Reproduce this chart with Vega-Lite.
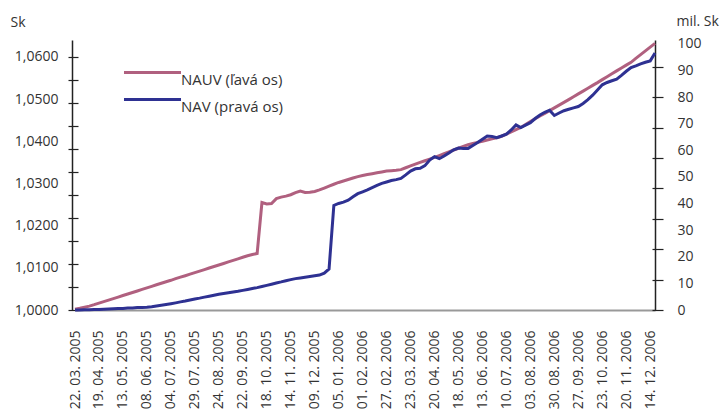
{
  "$schema": "https://vega.github.io/schema/vega-lite/v6.json",
  "width": 583,
  "height": 270,
  "autosize": {"type": "none"},
  "padding": {"left": 72, "top": 40, "right": 67, "bottom": 106},
  "background": "white",
  "config": {
    "view": {"stroke": null},
    "font": "Open Sans",
    "axis": {"labelFont": "Open Sans", "titleFont": "Open Sans", "labelColor": "#333333", "titleColor": "#333333", "grid": false},
    "legend": {"labelFont": "Open Sans", "labelColor": "#333333"}
  },
  "data": {
    "values": [
      {"d": "2005-03-22", "nauv": 1.00017, "nav": 0.04},
      {"d": "2005-03-29", "nauv": 1.0004, "nav": 0.04},
      {"d": "2005-04-04", "nauv": 1.00066, "nav": 0.08},
      {"d": "2005-04-08", "nauv": 1.00092, "nav": 0.11},
      {"d": "2005-04-14", "nauv": 1.00126, "nav": 0.15},
      {"d": "2005-04-19", "nauv": 1.00164, "nav": 0.19},
      {"d": "2005-04-25", "nauv": 1.00199, "nav": 0.26},
      {"d": "2005-04-29", "nauv": 1.00235, "nav": 0.34},
      {"d": "2005-05-04", "nauv": 1.0027, "nav": 0.45},
      {"d": "2005-05-09", "nauv": 1.00306, "nav": 0.53},
      {"d": "2005-05-13", "nauv": 1.00344, "nav": 0.6},
      {"d": "2005-05-19", "nauv": 1.00379, "nav": 0.71},
      {"d": "2005-05-25", "nauv": 1.00415, "nav": 0.79},
      {"d": "2005-05-30", "nauv": 1.00451, "nav": 0.9},
      {"d": "2005-06-03", "nauv": 1.00489, "nav": 0.98},
      {"d": "2005-06-08", "nauv": 1.00524, "nav": 1.05},
      {"d": "2005-06-14", "nauv": 1.0056, "nav": 1.24},
      {"d": "2005-06-20", "nauv": 1.00598, "nav": 1.5},
      {"d": "2005-06-24", "nauv": 1.00633, "nav": 1.77},
      {"d": "2005-06-29", "nauv": 1.00669, "nav": 2.03},
      {"d": "2005-07-04", "nauv": 1.00704, "nav": 2.33},
      {"d": "2005-07-08", "nauv": 1.00742, "nav": 2.67},
      {"d": "2005-07-14", "nauv": 1.00778, "nav": 3.05},
      {"d": "2005-07-19", "nauv": 1.00813, "nav": 3.38},
      {"d": "2005-07-25", "nauv": 1.00849, "nav": 3.76},
      {"d": "2005-07-29", "nauv": 1.00887, "nav": 4.14},
      {"d": "2005-08-04", "nauv": 1.00922, "nav": 4.47},
      {"d": "2005-08-10", "nauv": 1.00958, "nav": 4.85},
      {"d": "2005-08-15", "nauv": 1.00996, "nav": 5.19},
      {"d": "2005-08-19", "nauv": 1.01032, "nav": 5.56},
      {"d": "2005-08-24", "nauv": 1.01067, "nav": 5.94},
      {"d": "2005-08-31", "nauv": 1.01103, "nav": 6.2},
      {"d": "2005-09-06", "nauv": 1.01141, "nav": 6.5},
      {"d": "2005-09-12", "nauv": 1.01176, "nav": 6.77},
      {"d": "2005-09-16", "nauv": 1.01212, "nav": 7.03},
      {"d": "2005-09-22", "nauv": 1.0125, "nav": 7.37},
      {"d": "2005-09-28", "nauv": 1.01285, "nav": 7.71},
      {"d": "2005-10-03", "nauv": 1.01316, "nav": 8.08},
      {"d": "2005-10-07", "nauv": 1.0134, "nav": 8.42},
      {"d": "2005-10-13", "nauv": 1.02547, "nav": 8.83},
      {"d": "2005-10-18", "nauv": 1.02514, "nav": 9.25},
      {"d": "2005-10-24", "nauv": 1.02523, "nav": 9.7},
      {"d": "2005-10-28", "nauv": 1.02639, "nav": 10.15},
      {"d": "2005-11-03", "nauv": 1.02675, "nav": 10.56},
      {"d": "2005-11-09", "nauv": 1.02699, "nav": 11.02},
      {"d": "2005-11-14", "nauv": 1.02732, "nav": 11.43},
      {"d": "2005-11-18", "nauv": 1.02782, "nav": 11.8},
      {"d": "2005-11-24", "nauv": 1.0282, "nav": 12.07},
      {"d": "2005-11-29", "nauv": 1.02786, "nav": 12.33},
      {"d": "2005-12-05", "nauv": 1.02789, "nav": 12.59},
      {"d": "2005-12-09", "nauv": 1.0281, "nav": 12.86},
      {"d": "2005-12-15", "nauv": 1.02846, "nav": 13.12},
      {"d": "2005-12-21", "nauv": 1.02891, "nav": 13.87},
      {"d": "2005-12-27", "nauv": 1.02936, "nav": 15.41},
      {"d": "2005-12-30", "nauv": 1.02981, "nav": 39.29},
      {"d": "2006-01-05", "nauv": 1.03023, "nav": 40.04},
      {"d": "2006-01-11", "nauv": 1.03057, "nav": 40.56},
      {"d": "2006-01-17", "nauv": 1.03092, "nav": 41.28},
      {"d": "2006-01-23", "nauv": 1.03128, "nav": 42.56},
      {"d": "2006-01-27", "nauv": 1.03161, "nav": 43.72},
      {"d": "2006-02-01", "nauv": 1.0319, "nav": 44.44},
      {"d": "2006-02-07", "nauv": 1.03211, "nav": 45.19},
      {"d": "2006-02-13", "nauv": 1.03232, "nav": 46.02},
      {"d": "2006-02-17", "nauv": 1.03251, "nav": 46.84},
      {"d": "2006-02-22", "nauv": 1.03272, "nav": 47.59},
      {"d": "2006-02-27", "nauv": 1.03294, "nav": 48.12},
      {"d": "2006-03-03", "nauv": 1.03303, "nav": 48.68},
      {"d": "2006-03-09", "nauv": 1.03313, "nav": 49.02},
      {"d": "2006-03-14", "nauv": 1.03327, "nav": 49.47},
      {"d": "2006-03-17", "nauv": 1.03372, "nav": 50.79},
      {"d": "2006-03-23", "nauv": 1.03415, "nav": 52.22},
      {"d": "2006-03-29", "nauv": 1.03457, "nav": 53.08},
      {"d": "2006-04-04", "nauv": 1.03498, "nav": 53.27},
      {"d": "2006-04-10", "nauv": 1.03538, "nav": 54.25},
      {"d": "2006-04-14", "nauv": 1.03576, "nav": 56.39},
      {"d": "2006-04-20", "nauv": 1.03616, "nav": 57.67},
      {"d": "2006-04-26", "nauv": 1.03661, "nav": 56.88},
      {"d": "2006-05-02", "nauv": 1.03704, "nav": 57.89},
      {"d": "2006-05-09", "nauv": 1.03747, "nav": 59.06},
      {"d": "2006-05-12", "nauv": 1.03792, "nav": 60.23},
      {"d": "2006-05-18", "nauv": 1.03834, "nav": 60.86},
      {"d": "2006-05-24", "nauv": 1.03877, "nav": 60.68},
      {"d": "2006-05-29", "nauv": 1.03917, "nav": 60.75},
      {"d": "2006-06-02", "nauv": 1.03946, "nav": 61.84},
      {"d": "2006-06-08", "nauv": 1.03974, "nav": 62.93},
      {"d": "2006-06-13", "nauv": 1.04001, "nav": 64.17},
      {"d": "2006-06-19", "nauv": 1.04029, "nav": 65.41},
      {"d": "2006-06-23", "nauv": 1.04057, "nav": 65.23},
      {"d": "2006-06-29", "nauv": 1.04083, "nav": 64.77},
      {"d": "2006-07-04", "nauv": 1.04119, "nav": 65.41},
      {"d": "2006-07-10", "nauv": 1.04171, "nav": 66.09},
      {"d": "2006-07-14", "nauv": 1.04221, "nav": 67.67},
      {"d": "2006-07-19", "nauv": 1.04273, "nav": 69.55},
      {"d": "2006-07-24", "nauv": 1.04328, "nav": 68.57},
      {"d": "2006-07-28", "nauv": 1.04399, "nav": 69.47},
      {"d": "2006-08-03", "nauv": 1.04468, "nav": 70.41},
      {"d": "2006-08-09", "nauv": 1.04534, "nav": 71.99},
      {"d": "2006-08-15", "nauv": 1.046, "nav": 73.31},
      {"d": "2006-08-18", "nauv": 1.04662, "nav": 74.32},
      {"d": "2006-08-24", "nauv": 1.04726, "nav": 75.11},
      {"d": "2006-08-30", "nauv": 1.04792, "nav": 73.12},
      {"d": "2006-09-05", "nauv": 1.04857, "nav": 74.06},
      {"d": "2006-09-11", "nauv": 1.04921, "nav": 74.92},
      {"d": "2006-09-15", "nauv": 1.04987, "nav": 75.45},
      {"d": "2006-09-21", "nauv": 1.05056, "nav": 75.98},
      {"d": "2006-09-27", "nauv": 1.05122, "nav": 76.5},
      {"d": "2006-10-03", "nauv": 1.05189, "nav": 77.63},
      {"d": "2006-10-09", "nauv": 1.05255, "nav": 79.06},
      {"d": "2006-10-13", "nauv": 1.05324, "nav": 80.75},
      {"d": "2006-10-18", "nauv": 1.0539, "nav": 82.71},
      {"d": "2006-10-23", "nauv": 1.05461, "nav": 84.66},
      {"d": "2006-10-27", "nauv": 1.0553, "nav": 85.53},
      {"d": "2006-11-02", "nauv": 1.05599, "nav": 86.17},
      {"d": "2006-11-08", "nauv": 1.05668, "nav": 86.8},
      {"d": "2006-11-14", "nauv": 1.05736, "nav": 88.2},
      {"d": "2006-11-20", "nauv": 1.05805, "nav": 89.74},
      {"d": "2006-11-24", "nauv": 1.05871, "nav": 91.13},
      {"d": "2006-11-29", "nauv": 1.05964, "nav": 91.8},
      {"d": "2006-12-04", "nauv": 1.06052, "nav": 92.52},
      {"d": "2006-12-08", "nauv": 1.06142, "nav": 93.12},
      {"d": "2006-12-14", "nauv": 1.06232, "nav": 93.65},
      {"d": "2006-12-20", "nauv": 1.0632, "nav": 96.62}
    ]
  },
  "encoding": {
    "x": {
      "field": "d",
      "type": "ordinal",
      "sort": "ascending",
      "scale": {"type": "point", "range": [3, 583], "padding": 0},
      "axis": {
        "title": null,
        "values": ["2005-03-22", "2005-04-19", "2005-05-13", "2005-06-08", "2005-07-04", "2005-07-29", "2005-08-24", "2005-09-22", "2005-10-18", "2005-11-14", "2005-12-09", "2006-01-05", "2006-02-01", "2006-02-27", "2006-03-23", "2006-04-20", "2006-05-18", "2006-06-13", "2006-07-10", "2006-08-03", "2006-08-30", "2006-09-27", "2006-10-23", "2006-11-20", "2006-12-14"],
        "labelExpr": "slice(datum.value, 8, 10) + '. ' + slice(datum.value, 5, 7) + '. ' + slice(datum.value, 0, 4)",
        "labelAngle": -90,
        "labelAlign": "right",
        "labelBaseline": "middle",
        "labelFontSize": 14,
        "labelPadding": 20,
        "labelOverlap": false,
        "ticks": false,
        "tickSize": 0,
        "domainColor": "#999999",
        "domainWidth": 2
      }
    }
  },
  "layer": [
    {
      "layer": [
        {
          "mark": {"type": "line", "strokeWidth": 3},
          "encoding": {
            "y": {
              "field": "nauv",
              "type": "quantitative",
              "scale": {"domain": [1, 1.064], "nice": false, "zero": false},
              "axis": {
                "orient": "left",
                "title": "Sk",
                "titleAngle": 0,
                "titleAlign": "left",
                "titleBaseline": "middle",
                "titleX": -62,
                "titleY": -18,
                "titleFontSize": 14,
                "titleFontWeight": "normal",
                "labels": false,
                "ticks": false,
                "domainColor": "#222222",
                "domainWidth": 1.5
              }
            },
            "color": {
              "datum": "NAUV (ľavá os)",
              "scale": {"domain": ["NAUV (ľavá os)", "NAV (pravá os)"], "range": ["#B0607F", "#2E3192"]},
              "legend": {
                "orient": "none",
                "legendX": 73,
                "legendY": 25,
                "title": null,
                "padding": 0,
                "symbolType": "M-5,0H5",
                "symbolSize": 130,
                "symbolStrokeWidth": 3,
                "labelFontSize": 15,
                "labelOffset": 21,
                "labelBaseline": "top",
                "rowPadding": 4
              }
            }
          }
        },
        {
          "mark": {"type": "line", "opacity": 0},
          "encoding": {
            "y": {
              "field": "nauv",
              "type": "quantitative",
              "axis": {
                "orient": "left",
                "title": null,
                "domain": false,
                "offset": -6,
                "tickSize": 10,
                "tickColor": "#222222",
                "tickWidth": 1.2,
                "labelPadding": 10,
                "labelFontSize": 14,
                "labelOverlap": false,
                "labelFlush": false,
                "values": [1, 1.0054545, 1.01, 1.0109091, 1.0163636, 1.02, 1.0218182, 1.0272727, 1.03, 1.0327273, 1.0381818, 1.04, 1.0436364, 1.0490909, 1.05, 1.0545455, 1.06],
                "labelExpr": "abs(datum.value * 100 - round(datum.value * 100)) < 0.01 ? replace(format(datum.value, '.4f'), '.', ',') : ''",
                "tickOpacity": {"condition": {"test": "abs((datum.value - 1) * 11 / 0.06 - round((datum.value - 1) * 11 / 0.06)) < 0.02", "value": 1}, "value": 0}
              }
            }
          }
        }
      ],
      "resolve": {"axis": {"y": "independent"}}
    },
    {
      "layer": [
        {
          "mark": {"type": "line", "strokeWidth": 3},
          "encoding": {
            "y": {
              "field": "nav",
              "type": "quantitative",
              "scale": {"domain": [0, 101.5], "nice": false},
              "axis": {
                "orient": "right",
                "title": "mil. Sk",
                "titleAngle": 0,
                "titleAlign": "left",
                "titleBaseline": "middle",
                "titleX": 21,
                "titleY": -19,
                "titleFontSize": 14,
                "titleFontWeight": "normal",
                "labels": false,
                "ticks": false,
                "domainColor": "#222222",
                "domainWidth": 1.5
              }
            },
            "color": {"datum": "NAV (pravá os)"}
          }
        },
        {
          "mark": {"type": "line", "opacity": 0},
          "encoding": {
            "y": {
              "field": "nav",
              "type": "quantitative",
              "axis": {
                "orient": "right",
                "title": null,
                "domain": false,
                "offset": -3,
                "tickSize": 11,
                "tickColor": "#222222",
                "tickWidth": 1.2,
                "labelPadding": 14,
                "labelFontSize": 14,
                "labelOverlap": false,
                "labelFlush": false,
                "values": [0, 10, 11.428571, 20, 22.857143, 30, 34.285714, 40, 45.714286, 50, 57.142857, 60, 68.571429, 70, 80, 90, 91.428571, 100],
                "labelExpr": "abs(datum.value / 10 - round(datum.value / 10)) < 0.001 ? format(datum.value, 'd') : ''",
                "tickOpacity": {"condition": {"test": "abs(datum.value * 7 / 80 - round(datum.value * 7 / 80)) < 0.01", "value": 1}, "value": 0}
              }
            }
          }
        }
      ],
      "resolve": {"axis": {"y": "independent"}}
    }
  ],
  "resolve": {"scale": {"y": "independent"}}
}
